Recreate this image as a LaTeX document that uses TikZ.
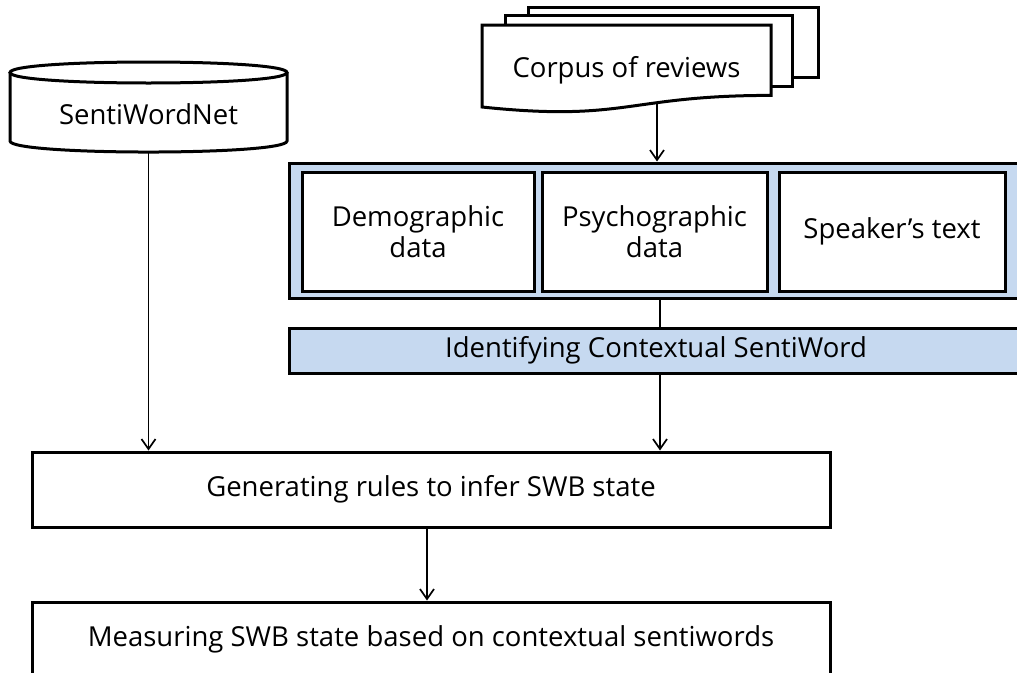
\documentclass[tikz,border=0pt]{standalone}
\usepackage{fontspec}
\setmainfont{Open Sans}
\usetikzlibrary{arrows.meta}
\definecolor{panelblue}{RGB}{198,217,240}
\tikzset{
  boxline/.style={draw=black, line width=3pt},
  txt/.style={inner sep=0pt, align=center, font=\fontsize{27.5}{31}\selectfont},
  plainbox/.style={boxline, fill=white, rectangle, txt},
  bluebox/.style={plainbox, fill=panelblue},
  link/.style={line width=1.7pt},
  flow/.style={link, -{Straight Barb[length=10pt,width=14pt,line width=1.7pt]}},
}
\begin{document}
\begin{tikzpicture}[x=1pt,y=-1pt]
\useasboundingbox (0,0) rectangle (1017,672);
\clip (0,0) rectangle (1017,672);
\fill[white] (0,0) rectangle (1017,672);

% SentiWordNet database (cylinder)
\draw[boxline, fill=white] (10,72.5) -- (10,141)
  .. controls (10,155.7) and (287,155.7) .. (287,141) -- (287,72.5);
\draw[boxline, fill=white] (10,72.5) .. controls (10,58.5) and (287,58.5) .. (287,72.5)
  .. controls (287,86.5) and (10,86.5) .. cycle;
\node[txt] (swn) at (148.5,114) {SentiWordNet};
\coordinate (swnbase) at (148.5,152);

% stack of review documents
\draw[boxline, fill=white] (528,7) rectangle (818,77);
\draw[boxline, fill=white] (505,15) rectangle (792,86);
\draw[boxline, fill=white] (482,25) -- (771,25) -- (771,95.4)
  .. controls (626.5,95.4) and (626.5,122.2) .. (482,107) -- cycle;
\node[txt] (corpus) at (626.5,70) {Corpus of reviews};
\coordinate (corpusbase) at (657,102.3);

% input data panel
\node[bluebox, minimum width=734, minimum height=135] (panel) at (656,230.5) {};
\node[plainbox, minimum width=232, minimum height=119] (demo) at (418,231.5) {Demographic\\data};
\node[plainbox, minimum width=225, minimum height=119] (psycho) at (654.5,231.5) {Psychographic\\data};
\node[plainbox, minimum width=226, minimum height=119] (speaker) at (892,231.5) {Speaker’s text};

\node[bluebox, minimum width=734, minimum height=45] (ident) at (656,350.5) {Identifying Contextual SentiWord};

\node[plainbox, minimum width=798, minimum height=75] (gen) at (431,489.5) {Generating rules to infer SWB state};
\node[plainbox, minimum width=798, minimum height=75] (meas) at (431,639.5) {Measuring SWB state based on contextual sentiwords};

% connectors
\draw[flow] (swnbase) -- (swnbase |- gen.north);
\draw[flow] (corpusbase) -- (corpusbase |- panel.north);
\draw[link] ([xshift=4pt]panel.south) -- ([xshift=4pt]ident.north);
\draw[flow] ([xshift=4pt]ident.south) -- ([xshift=4pt]ident.south |- gen.north);
\draw[flow] ([xshift=-4pt]gen.south) -- ([xshift=-4pt]meas.north);
\end{tikzpicture}
\end{document}
